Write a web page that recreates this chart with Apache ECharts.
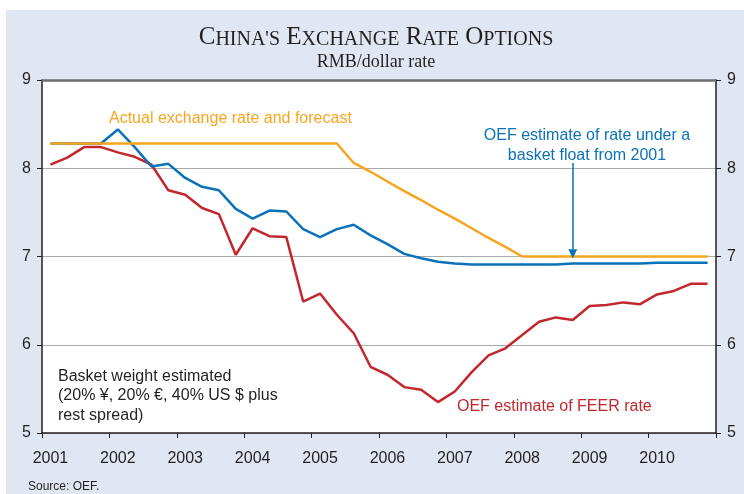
<!DOCTYPE html>
<html>
<head>
<meta charset="utf-8">
<script src="https://cdn.jsdelivr.net/npm/echarts@6/dist/echarts.min.js"></script>
<style>
  html, body { margin: 0; padding: 0; background: #fff; }
  #wrap { position: relative; width: 744px; height: 494px; }
  #panel { position: absolute; left: 6px; top: 10px; width: 738px; height: 484px; background: #e0e7f3; }
  #chart { position: absolute; left: 0; top: 0; width: 744px; height: 494px; }
</style>
</head>
<body>
<div id="wrap">
  <div id="panel"></div>
  <div id="chart"></div>
</div>
<script>
// quarterly observations, 2001Q1 .. 2010Q4
const years = [2001, 2002, 2003, 2004, 2005, 2006, 2007, 2008, 2009, 2010]
const quarters = []
years.forEach((y) => {
  [1, 2, 3, 4].forEach((q) => quarters.push(y + 'Q' + q))
})

// actual exchange rate and forecast
const actualRate = [
  8.28, 8.28, 8.28, 8.28, 8.28, 8.28, 8.28, 8.28, 8.28, 8.28,
  8.28, 8.28, 8.28, 8.28, 8.28, 8.28, 8.28, 8.28, 8.06, 7.96,
  7.85, 7.74, 7.64, 7.53, 7.43, 7.32, 7.21, 7.11, 7.00, 7.00,
  7.00, 7.00, 7.00, 7.00, 7.00, 7.00, 7.00, 7.00, 7.00, 7.00
]
// OEF estimate under a basket float from 2001
const basketRate = [
  8.28, 8.28, 8.28, 8.28, 8.44, 8.24, 8.02, 8.05, 7.89, 7.79,
  7.75, 7.54, 7.43, 7.52, 7.51, 7.31, 7.22, 7.31, 7.36, 7.24,
  7.14, 7.03, 6.98, 6.94, 6.92, 6.91, 6.91, 6.91, 6.91, 6.91,
  6.91, 6.92, 6.92, 6.92, 6.92, 6.92, 6.93, 6.93, 6.93, 6.93
]
// OEF estimate of FEER rate
const feerRate = [
  8.04, 8.12, 8.24, 8.24, 8.18, 8.13, 8.04, 7.75, 7.70, 7.55,
  7.48, 7.02, 7.32, 7.23, 7.22, 6.49, 6.58, 6.34, 6.13, 5.75,
  5.66, 5.52, 5.49, 5.35, 5.47, 5.69, 5.88, 5.96, 6.11, 6.26,
  6.31, 6.28, 6.44, 6.45, 6.48, 6.46, 6.57, 6.61, 6.69, 6.69
]

const ORANGE = '#f7a51f'
const BLUE = '#0b72b9'
const RED = '#c1272d'
const INK = '#231f20'
const SANS = '"Liberation Sans", Arial, sans-serif'
const SERIF = '"Liberation Serif", "Times New Roman", serif'

const chart = echarts.init(document.getElementById('chart'))

const yAxisBase = {
  type: 'value',
  min: 5,
  max: 9,
  interval: 1,
  axisLine: { show: true, lineStyle: { color: INK, width: 1.5 } },
  axisTick: { show: true, inside: false, length: 5, lineStyle: { color: INK, width: 1 } },
  axisLabel: { fontSize: 16, fontFamily: SANS, color: INK, margin: 11 }
}

chart.setOption({
  animation: false,
  backgroundColor: 'transparent',
  grid: {
    left: 42,
    right: 28,
    top: 80,
    bottom: 61,
    show: true,
    backgroundColor: '#fff',
    borderWidth: 0
  },
  xAxis: [{
    type: 'category',
    data: quarters,
    boundaryGap: true,
    axisLine: { show: true, lineStyle: { color: INK, width: 1.5 } },
    axisTick: { show: true, interval: 3, length: 5, lineStyle: { color: INK, width: 1 } },
    axisLabel: {
      interval: 3,
      fontSize: 16,
      fontFamily: SANS,
      color: INK,
      margin: 18,
      formatter: (v) => v.slice(0, 4)
    },
    splitLine: { show: false }
  }, {
    // dark frame line along the top of the plot
    type: 'category',
    data: quarters,
    position: 'top',
    axisLine: { show: true, lineStyle: { color: '#6d6e71', width: 2.5 } },
    axisTick: { show: false },
    axisLabel: { show: false }
  }],
  yAxis: [
    Object.assign({}, yAxisBase, {
      position: 'left',
      splitLine: { show: true, lineStyle: { color: '#a7a9ac', width: 1 } }
    }),
    Object.assign({}, yAxisBase, {
      position: 'right',
      splitLine: { show: false }
    })
  ],
  series: [
    {
      name: 'OEF estimate of FEER rate',
      type: 'line',
      data: feerRate,
      symbol: 'none',
      lineStyle: { color: RED, width: 2.5 },
      z: 2
    },
    {
      name: 'OEF estimate of rate under a basket float from 2001',
      type: 'line',
      data: basketRate,
      symbol: 'none',
      lineStyle: { color: BLUE, width: 2.5 },
      z: 3,
      markLine: {
        silent: true,
        symbol: ['none', 'triangle'],
        symbolSize: 9,
        label: { show: false },
        lineStyle: { color: BLUE, width: 1.5, type: 'solid' },
        data: [[{ coord: ['2008Q4', 8.06] }, { coord: ['2008Q4', 7.03] }]]
      }
    },
    {
      name: 'Actual exchange rate and forecast',
      type: 'line',
      data: actualRate,
      symbol: 'none',
      lineStyle: { color: ORANGE, width: 2.5 },
      z: 4
    }
  ],
  graphic: [
    {
      type: 'text',
      x: 376,
      y: 37,
      style: {
        text: '{b|C}{s|HINA\'S} {b|E}{s|XCHANGE} {b|R}{s|ATE} {b|O}{s|PTIONS}',
        fontSize: 25,
        fontFamily: SERIF,
        fill: INK,
        align: 'center',
        verticalAlign: 'middle',
        rich: {
          b: { fontSize: 25, fontFamily: SERIF, fill: INK, verticalAlign: 'bottom' },
          s: { fontSize: 20, fontFamily: SERIF, fill: INK, verticalAlign: 'bottom' }
        }
      }
    },
    {
      type: 'text',
      x: 376,
      y: 62,
      style: { text: 'RMB/dollar rate', fontSize: 18, fontFamily: SERIF, fill: INK, align: 'center', verticalAlign: 'middle' }
    },
    {
      type: 'text',
      x: 109,
      y: 119,
      style: { text: 'Actual exchange rate and forecast', fontSize: 16, fontFamily: SANS, fill: ORANGE, verticalAlign: 'middle' }
    },
    {
      type: 'text',
      x: 587,
      y: 146,
      style: {
        text: 'OEF estimate of rate under a\nbasket float from 2001',
        fontSize: 16,
        lineHeight: 20,
        fontFamily: SANS,
        fill: BLUE,
        align: 'center',
        verticalAlign: 'middle'
      }
    },
    {
      type: 'text',
      x: 457,
      y: 407,
      style: { text: 'OEF estimate of FEER rate', fontSize: 16, fontFamily: SANS, fill: RED, verticalAlign: 'middle' }
    },
    {
      type: 'text',
      x: 58,
      y: 396,
      style: {
        text: 'Basket weight estimated\n(20% ¥, 20% €, 40% US $ plus\nrest spread)',
        fontSize: 16,
        lineHeight: 19.5,
        fontFamily: SANS,
        fill: INK,
        verticalAlign: 'middle'
      }
    },
    {
      type: 'text',
      x: 28,
      y: 487,
      style: { text: 'Source: OEF.', fontSize: 12, fontFamily: SANS, fill: INK, verticalAlign: 'middle' }
    }
  ]
})
</script>
</body>
</html>
